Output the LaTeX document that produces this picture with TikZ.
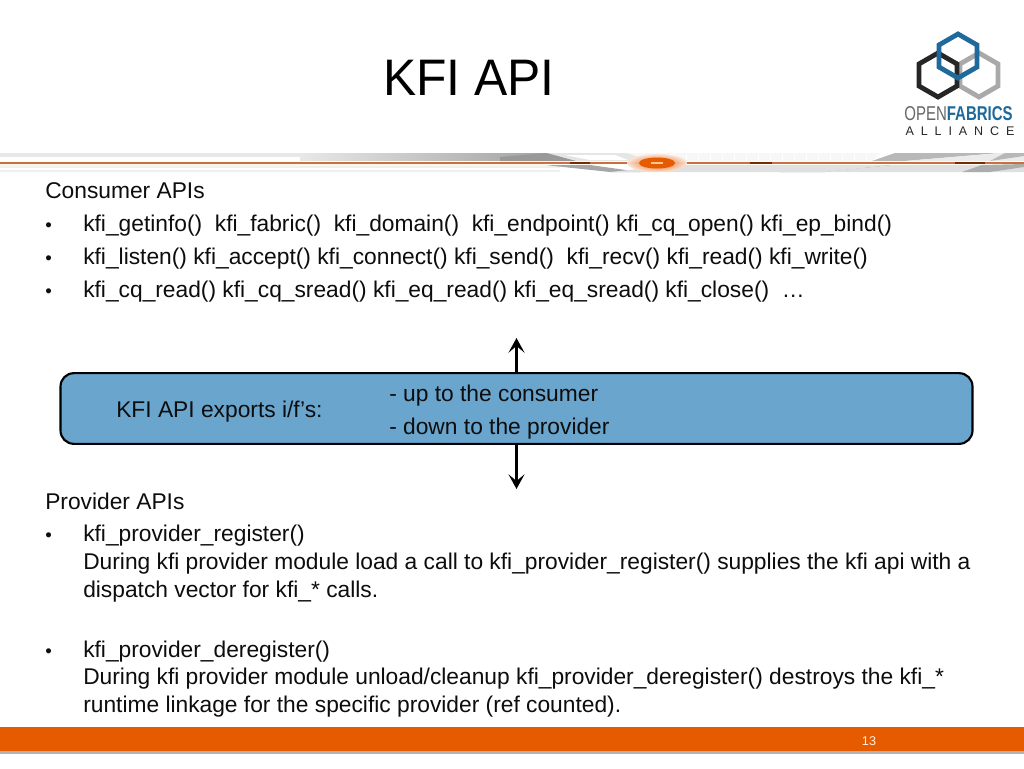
\documentclass[tikz,border=0pt]{standalone}
\usepackage{fontspec}
\setmainfont{Liberation Sans}
\usetikzlibrary{shapes.geometric,arrows.meta}
\definecolor{ofaorange}{HTML}{E65A00}
\definecolor{ofablue}{HTML}{1F6A9A}
\definecolor{ofagray}{HTML}{A9A9A9}
\definecolor{ofablack}{HTML}{262626}
\definecolor{boxblue}{HTML}{6AA5CE}
\definecolor{stripeline}{HTML}{C9703F}

\begin{document}
\begin{tikzpicture}[x=0.75pt,y=-0.75pt]
	\tikzstyle{line}=[anchor=base west,font=\fontsize{17.08}{18}\selectfont,inner sep=0pt,text=black!95]
	\tikzstyle{dotitem}=[anchor=base west,font=\fontsize{14}{14}\selectfont,inner sep=0pt,text=black!95]
	\tikzstyle{hexa}=[draw,shape=regular polygon,regular polygon sides=6,regular polygon rotate=30,minimum size=33pt,inner sep=0pt,line width=3.6pt]
	\tikzstyle{updown}=[-{Stealth[length=11pt,width=12pt,inset=5pt]},line width=2.6pt,black]
	\useasboundingbox (0,0) rectangle (1024,768);
	\fill[white] (0,0) rectangle (1024,768);
	
	% header stripe
	\fill[black!9] (0,153) rectangle (547,157);
	\fill[black!6] (0,166) rectangle (560,172);
	\fill[white] (0,168) rectangle (560,169.5);
	\fill[orange!8] (0,164) rectangle (545,166);
	\shade[left color=black!9,right color=black!38] (300,153) rectangle (560,160);
	\fill[black!40] (547,153) -- (577,161) -- (500,161) -- (500,157) -- cycle;
	\fill[black!10] (547,153) -- (627,153) -- (652,161) -- (577,161) -- cycle;
	\fill[white] (565,155) -- (615,155) -- (628,160) -- (590,160) -- cycle;
	\fill[black!3] (627,153) -- (880,153) -- (872,161) -- (652,161) -- cycle;
	\foreach \gridx in {650,662,...,870}
		\draw[white,line width=0.6pt] (\gridx,154) -- (\gridx,160);
	\fill[black!28] (872,161) -- (895,153) -- (1000,153) -- (905,161) -- cycle;
	\fill[black!8] (905,161) -- (1000,153) -- (1024,153) -- (1024,161) -- cycle;
	\fill[black!28] (990,161) -- (1005,153) -- (1024,153) -- (1024,156) -- cycle;
	\shade[left color=black!8,right color=black!42] (677,165) rectangle (892,167);
	\fill[black!42] (825,172) -- (892,165) -- (840,165) -- (780,172) -- cycle;
	\fill[black!35] (545,165) -- (610,172) -- (640,172) -- (590,165) -- cycle;
	\fill[black!12] (610,172) -- (677,165) -- (892,165) -- (825,172) -- cycle;
	\fill[black!12] (892,165) -- (1024,165) -- (1024,172) -- (825,172) -- cycle;
	\fill[black!32] (962,172) -- (982,165) -- (1024,164) -- (1024,167) -- (990,172) -- cycle;
	\fill[stripeline] (0,161.5) rectangle (1024,164);
	\shade[inner color=ofaorange,outer color=ofaorange!15,opacity=0.95] (657,163) ellipse (30 and 9);
	\fill[ofaorange] (657,163) ellipse (18 and 5.5);
	\fill[orange!45] (651,162) rectangle (663,163.5);
	\fill[ofaorange!50!black] (570,162) rectangle (590,164);
	\fill[ofaorange!50!black] (750,162) rectangle (772,164);
	\fill[ofaorange!50!black] (955,162) rectangle (985,164);
	
	% logo
	\node[hexa,ofagray](hexright) at (979,75){};
	\node[hexa,ofablack](hexleft) at (938,75){};
	\node[hexa,ofablue](hextop) at (958,56){};
	\node[anchor=base,inner sep=0pt,xscale=0.75,font=\fontsize{15}{16}\selectfont](logoname) at (958.5,120){\textcolor{black!60}{OPEN}\textcolor{ofablue}{\textbf{FABRICS}}};
	\node[anchor=base,inner sep=0pt,font=\fontsize{9.4}{10}\selectfont\addfontfeatures{LetterSpace=55},text=black!85](logosub) at (960,135){ALLIANCE};
	
	% title
	\node[anchor=base west,inner sep=0pt,xscale=0.97,font=\fontsize{38.5}{40}\selectfont,text=black](title) at (383,95){KFI API};
	
	% consumer side
	\node[line](cons) at (45,198){Consumer APIs};
	\node[dotitem](consa) at (45,231){•};
	\node[line](consatext) at (83,231){kfi\_getinfo()\ \ kfi\_fabric()\ \ kfi\_domain()\ \ kfi\_endpoint() kfi\_cq\_open() kfi\_ep\_bind()};
	\node[dotitem](consb) at (45,264){•};
	\node[line](consbtext) at (83,264){kfi\_listen() kfi\_accept() kfi\_connect() kfi\_send()\ \ kfi\_recv() kfi\_read() kfi\_write()};
	\node[dotitem](consc) at (45,297){•};
	\node[line](consctext) at (83,297){kfi\_cq\_read() kfi\_cq\_sread() kfi\_eq\_read() kfi\_eq\_sread() kfi\_close()\ \ …};
	
	% middle box
	\node[draw=black,fill=boxblue,line width=1.6pt,rounded corners=10pt,minimum width=684pt,minimum height=53pt,inner sep=0pt](apibox) at (516.5,408.5){};
	\node[line](apileft) at (116,417){KFI API exports i/f’s:};
	\node[line](apiup) at (389,401){- up to the consumer};
	\node[line](apidown) at (389,434){- down to the provider};
	\coordinate (uptip) at (516.5,338);
	\coordinate (downtip) at (516.5,489);
	\draw[updown] (apibox.north) -- (uptip);
	\draw[updown] (apibox.south) -- (downtip);
	
	% provider side
	\node[line](prov) at (45,509){Provider APIs};
	\node[dotitem](prova) at (45,541){•};
	\node[line](provatext) at (83,541){kfi\_provider\_register()};
	\node[line](provab) at (83,569){During kfi provider module load a call to kfi\_provider\_register() supplies the kfi api with a};
	\node[line](provac) at (83,597){dispatch vector for kfi\_* calls.};
	\node[dotitem](provb) at (45,657){•};
	\node[line](provbtext) at (83,657){kfi\_provider\_deregister()};
	\node[line](provba) at (83,684){During kfi provider module unload/cleanup kfi\_provider\_deregister() destroys the kfi\_*};
	\node[line](provbb) at (83,712){runtime linkage for the specific provider (ref counted).};
	
	% footer
	\fill[black!30] (0,751) rectangle (1024,754);
	\fill[ofaorange] (0,727) rectangle (1024,751);
	\node[anchor=base,inner sep=0pt,font=\fontsize{9.5}{10}\selectfont,text=white!90!orange](pagenum) at (869,745){13};
\end{tikzpicture}
\end{document}
